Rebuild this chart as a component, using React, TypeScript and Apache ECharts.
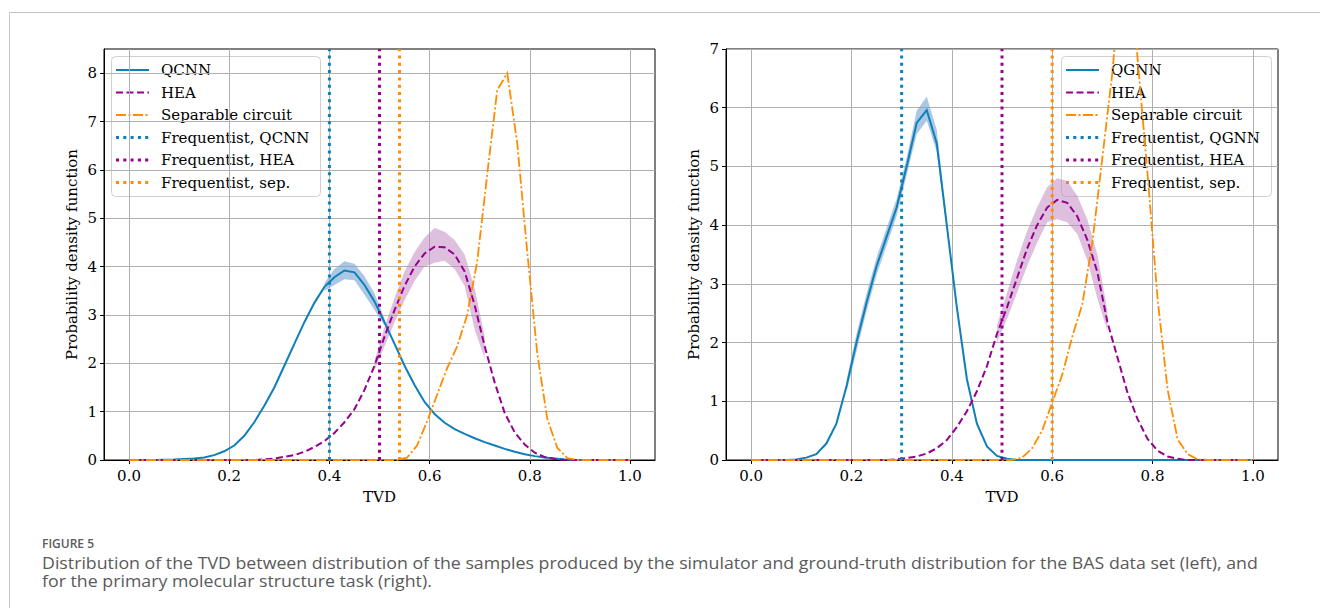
import React, { useEffect, useRef } from "react";
import * as echarts from "echarts";

// ---------- data ----------
const xTicks = [0, 0.2, 0.4, 0.6, 0.8, 1.0];
const yTicksLeft = [0, 1, 2, 3, 4, 5, 6, 7, 8];
const yTicksRight = [0, 1, 2, 3, 4, 5, 6, 7];

const leftLegendLabels = ["QCNN", "HEA", "Separable circuit", "Frequentist, QCNN", "Frequentist, HEA", "Frequentist, sep."];
const rightLegendLabels = ["QGNN", "HEA", "Separable circuit", "Frequentist, QGNN", "Frequentist, HEA", "Frequentist, sep."];

// frequentist estimates (vertical dotted lines): [model, HEA, separable]
const leftFrequentist = [0.4, 0.5, 0.54];
const rightFrequentist = [0.3, 0.5, 0.6];

// left panel (BAS data set)
const leftQcnn: number[][] = [
  [0, 0], [0.05, 0], [0.09, 0.01], [0.13, 0.03], [0.15, 0.05], [0.17, 0.1], [0.19, 0.18], [0.21, 0.3],
  [0.23, 0.5], [0.25, 0.78], [0.27, 1.12], [0.29, 1.5], [0.31, 1.95], [0.33, 2.4], [0.35, 2.85],
  [0.37, 3.25], [0.39, 3.58], [0.41, 3.78], [0.43, 3.92], [0.45, 3.88], [0.47, 3.62], [0.49, 3.28],
  [0.51, 2.85], [0.53, 2.4], [0.55, 1.95], [0.57, 1.55], [0.59, 1.2], [0.61, 0.95], [0.63, 0.77],
  [0.65, 0.64], [0.67, 0.54], [0.69, 0.45], [0.71, 0.37], [0.73, 0.3], [0.75, 0.23], [0.77, 0.17],
  [0.79, 0.12], [0.81, 0.08], [0.83, 0.05], [0.85, 0.03], [0.87, 0.01], [0.89, 0], [1, 0],
];
const leftQcnnBand: number[][] = [
  [0.39, 3.5, 3.66], [0.41, 3.62, 3.95], [0.43, 3.74, 4.11], [0.45, 3.72, 4.06],
  [0.47, 3.42, 3.8], [0.49, 3.1, 3.45], [0.51, 2.78, 2.92],
];
const leftHea: number[][] = [
  [0, 0], [0.25, 0], [0.29, 0.03], [0.33, 0.1], [0.35, 0.17], [0.37, 0.27], [0.39, 0.39], [0.41, 0.56],
  [0.43, 0.78], [0.45, 1.05], [0.47, 1.45], [0.49, 1.95], [0.51, 2.55], [0.53, 3.1], [0.55, 3.6],
  [0.57, 4.0], [0.59, 4.27], [0.61, 4.41], [0.63, 4.4], [0.65, 4.25], [0.67, 3.9], [0.69, 3.2],
  [0.71, 2.35], [0.73, 1.6], [0.75, 0.97], [0.77, 0.57], [0.79, 0.32], [0.81, 0.15], [0.83, 0.06],
  [0.85, 0.02], [0.87, 0], [1, 0],
];
const leftHeaBand: number[][] = [
  [0.49, 1.85, 2.05], [0.51, 2.35, 2.75], [0.53, 2.85, 3.35], [0.55, 3.3, 3.9], [0.57, 3.7, 4.3],
  [0.59, 4.0, 4.6], [0.61, 4.08, 4.8], [0.63, 4.12, 4.72], [0.65, 3.95, 4.55], [0.67, 3.6, 4.25],
  [0.69, 2.7, 3.55], [0.71, 2.1, 2.55],
];
const leftSeparable: number[][] = [
  [0, 0], [0.535, 0], [0.555, 0.05], [0.575, 0.3], [0.595, 0.8], [0.615, 1.35], [0.635, 1.9],
  [0.655, 2.35], [0.675, 3.0], [0.695, 4.1], [0.715, 5.9], [0.735, 7.65], [0.755, 8.0], [0.775, 6.55],
  [0.795, 4.3], [0.815, 2.2], [0.835, 0.85], [0.855, 0.25], [0.875, 0.04], [0.895, 0], [1, 0],
];

// right panel (primary molecular structure task)
const rightQgnn: number[][] = [
  [0, 0], [0.07, 0], [0.09, 0.01], [0.11, 0.04], [0.13, 0.1], [0.15, 0.28], [0.17, 0.62], [0.19, 1.25],
  [0.21, 2.0], [0.23, 2.68], [0.25, 3.3], [0.27, 3.8], [0.29, 4.3], [0.31, 5.0], [0.33, 5.74],
  [0.35, 5.96], [0.37, 5.39], [0.39, 4.0], [0.41, 2.6], [0.43, 1.38], [0.45, 0.62], [0.47, 0.23],
  [0.49, 0.07], [0.51, 0.02], [0.53, 0], [1, 0],
];
const rightQgnnBand: number[][] = [
  [0.19, 1.15, 1.35], [0.21, 1.85, 2.15], [0.23, 2.53, 2.83], [0.25, 3.15, 3.45], [0.27, 3.65, 3.95],
  [0.29, 4.15, 4.45], [0.31, 4.85, 5.15], [0.33, 5.55, 5.95], [0.35, 5.78, 6.19], [0.37, 5.25, 5.62],
  [0.39, 3.92, 4.08],
];
const rightHea: number[][] = [
  [0, 0], [0.27, 0], [0.3, 0.02], [0.33, 0.06], [0.35, 0.11], [0.37, 0.2], [0.39, 0.34], [0.41, 0.56],
  [0.43, 0.83], [0.45, 1.17], [0.47, 1.6], [0.49, 2.15], [0.51, 2.6], [0.53, 3.1], [0.55, 3.6],
  [0.57, 4.0], [0.59, 4.3], [0.61, 4.43], [0.63, 4.38], [0.65, 4.15], [0.67, 3.75], [0.69, 3.2],
  [0.71, 2.35], [0.73, 1.75], [0.75, 1.15], [0.77, 0.7], [0.79, 0.36], [0.81, 0.16], [0.83, 0.06],
  [0.85, 0.02], [0.87, 0], [1, 0],
];
const rightHeaBand: number[][] = [
  [0.49, 2.0, 2.3], [0.51, 2.4, 2.85], [0.53, 2.85, 3.4], [0.55, 3.3, 3.9], [0.57, 3.7, 4.3],
  [0.59, 4.05, 4.65], [0.61, 4.1, 4.8], [0.63, 4.05, 4.75], [0.65, 3.85, 4.5], [0.67, 3.4, 4.1],
  [0.69, 2.75, 3.5], [0.71, 2.2, 2.55],
];
const rightSeparable: number[][] = [
  [0, 0], [0.52, 0], [0.54, 0.04], [0.56, 0.2], [0.58, 0.5], [0.6, 0.98], [0.62, 1.45], [0.64, 2.1],
  [0.66, 2.65], [0.68, 3.7], [0.7, 5.15], [0.72, 6.6], [0.74, 8.6], [0.755, 9.0], [0.77, 6.85],
  [0.79, 4.88], [0.81, 2.75], [0.83, 1.2], [0.85, 0.35], [0.87, 0.1], [0.89, 0.01], [0.91, 0], [1, 0],
];

const captionTitle = "FIGURE 5";
const captionLines = [
  "Distribution of the TVD between distribution of the samples produced by the simulator and ground-truth distribution for the BAS data set (left), and",
  "for the primary molecular structure task (right).",
];

// ---------- styles ----------
const BLUE = "#0e7fb8";
const PURPLE = "#960090";
const ORANGE = "#ff8c00";
const BLUE_BAND = "rgba(120,165,210,0.62)";
const PURPLE_BAND = "rgba(190,130,190,0.5)";
const SERIF = "DejaVu Serif";
const FS = 15;
const DASH = [7, 3.5];
const DASHDOT = [10, 2.5, 2, 2.5];
const DOT = [3, 4.3];

const fmtX = (v: number) => v.toFixed(1);

function makeAxes(gridIndex: number, yMax: number, yTicks: number[]) {
  const x = {
    type: "value",
    gridIndex,
    min: -0.05,
    max: 1.05,
    splitNumber: 5,
    name: "TVD",
    nameLocation: "middle",
    nameGap: 29,
    nameTextStyle: { fontFamily: SERIF, fontSize: FS, color: "#000" },
    axisLine: { onZero: false, lineStyle: { color: "#000", width: 1 } },
    axisTick: { show: true, customValues: xTicks, length: 4, inside: false, lineStyle: { color: "#000" } },
    axisLabel: { customValues: xTicks, formatter: fmtX, fontFamily: SERIF, fontSize: FS, color: "#000", margin: 8 },
    splitLine: { show: true, lineStyle: { color: "#b0b0b0", width: 1 } },
  };
  const y = {
    type: "value",
    gridIndex,
    min: 0,
    max: yMax,
    splitNumber: Math.round(yMax),
    name: "Probability density function",
    nameLocation: "middle",
    nameGap: 25,
    nameTextStyle: { fontFamily: SERIF, fontSize: FS, color: "#000" },
    axisLine: { show: true, onZero: false, lineStyle: { color: "#000", width: 1 } },
    axisTick: { show: true, customValues: yTicks, length: 4, inside: false, lineStyle: { color: "#000" } },
    axisLabel: { customValues: yTicks, fontFamily: SERIF, fontSize: FS, color: "#000", margin: 7 },
    splitLine: { show: true, lineStyle: { color: "#b0b0b0", width: 1 } },
  };
  return { x, y };
}

function bandSeries(idx: number, band: number[][], fill: string) {
  return {
    type: "custom",
    xAxisIndex: idx,
    yAxisIndex: idx,
    silent: true,
    clip: true,
    z: 2,
    data: [[band[0][0], band[0][1]]],
    renderItem: (_params: any, api: any) => {
      const upper = band.map((b) => api.coord([b[0], b[2]]));
      const lower = band.slice().reverse().map((b) => api.coord([b[0], b[1]]));
      return { type: "polygon", shape: { points: upper.concat(lower) }, style: { fill, stroke: null } };
    },
  };
}

function lineSeries(idx: number, data: number[][], color: string, type: any, width: number, z = 3) {
  return {
    type: "line",
    xAxisIndex: idx,
    yAxisIndex: idx,
    data,
    showSymbol: false,
    symbol: "none",
    clip: true,
    silent: true,
    z,
    lineStyle: { color, type, width, cap: "butt", join: "miter" },
  };
}

function vline(idx: number, x: number, yMax: number, color: string) {
  return lineSeries(idx, [[x, 0], [x, yMax]], color, DOT, 3, 4);
}

function legendGraphic(x0: number, y0: number, w: number, labels: string[]) {
  const styles = [
    { c: BLUE, d: null, w: 2 },
    { c: PURPLE, d: DASH, w: 2 },
    { c: ORANGE, d: DASHDOT, w: 2 },
    { c: BLUE, d: DOT, w: 3 },
    { c: PURPLE, d: DOT, w: 3 },
    { c: ORANGE, d: DOT, w: 3 },
  ];
  const children: any[] = [
    {
      type: "rect",
      shape: { x: x0 + 0.5, y: y0 + 0.5, width: w, height: 140, r: 4 },
      style: { fill: "rgba(255,255,255,0.8)", stroke: "#d0d0d0", lineWidth: 1 },
    },
  ];
  labels.forEach((lab, i) => {
    const yy = y0 + 14 + i * 22.5;
    children.push({
      type: "line",
      shape: { x1: x0 + 5, y1: yy, x2: x0 + 38, y2: yy },
      style: { stroke: styles[i].c, lineWidth: styles[i].w, lineDash: styles[i].d || undefined, lineCap: "butt" },
    });
    children.push({
      type: "text",
      x: x0 + 50,
      y: yy,
      style: { text: lab, fontFamily: SERIF, fontSize: FS, fill: "#000", verticalAlign: "middle", align: "left" },
    });
  });
  return { type: "group", z: 100, children };
}

export default function App() {
  const ref = useRef<HTMLDivElement>(null);
  useEffect(() => {
    if (!ref.current) return;
    const chart = echarts.init(ref.current, undefined, { renderer: "svg" });
    const L = makeAxes(0, 8.5, yTicksLeft);
    const R = makeAxes(1, 7, yTicksRight);
    const option: any = {
      animation: false,
      backgroundColor: "#fff",
      grid: [
        { left: 104, top: 49, width: 551, height: 411, show: true, borderColor: "#000", borderWidth: 1, backgroundColor: "transparent" },
        { left: 726, top: 49, width: 552, height: 411, show: true, borderColor: "#000", borderWidth: 1, backgroundColor: "transparent" },
      ],
      xAxis: [L.x, R.x],
      yAxis: [L.y, R.y],
      series: [
        bandSeries(0, leftQcnnBand, BLUE_BAND),
        bandSeries(0, leftHeaBand, PURPLE_BAND),
        lineSeries(0, leftQcnn, BLUE, "solid", 2),
        lineSeries(0, leftHea, PURPLE, DASH, 2),
        lineSeries(0, leftSeparable, ORANGE, DASHDOT, 1.8),
        vline(0, leftFrequentist[0], 8.5, BLUE),
        vline(0, leftFrequentist[1], 8.5, PURPLE),
        vline(0, leftFrequentist[2], 8.5, ORANGE),
        bandSeries(1, rightQgnnBand, BLUE_BAND),
        bandSeries(1, rightHeaBand, PURPLE_BAND),
        lineSeries(1, rightQgnn, BLUE, "solid", 2),
        lineSeries(1, rightHea, PURPLE, DASH, 2),
        lineSeries(1, rightSeparable, ORANGE, DASHDOT, 1.8),
        vline(1, rightFrequentist[0], 7, BLUE),
        vline(1, rightFrequentist[1], 7, PURPLE),
        vline(1, rightFrequentist[2], 7, ORANGE),
      ],
      graphic: [
        {
          type: "polyline",
          z: 0,
          shape: { points: [[9.5, 608], [9.5, 12.5], [1320, 12.5]] },
          style: { stroke: "#c4c4c4", lineWidth: 1, fill: null },
        },
        legendGraphic(111, 56, 209, leftLegendLabels),
        legendGraphic(1061, 56, 210, rightLegendLabels),
        {
          type: "text",
          x: 42,
          y: 543,
          style: { text: captionTitle, fontFamily: "Open Sans", fontSize: 12, fontWeight: 600, fill: "#5a5a5a", verticalAlign: "middle" },
        },
        {
          type: "text",
          x: 42,
          y: 554,
          scaleX: 1.11,
          style: {
            text: captionLines.join("\n"),
            fontFamily: "Open Sans",
            fontSize: 16,
            lineHeight: 18,
            fill: "#5a5a5a",
            verticalAlign: "top",
          },
        },
      ],
    };
    chart.setOption(option);
    return () => chart.dispose();
  }, []);
  return <div ref={ref} style={{ position: "absolute", left: 0, top: 0, width: 1320, height: 608 }} />;
}
